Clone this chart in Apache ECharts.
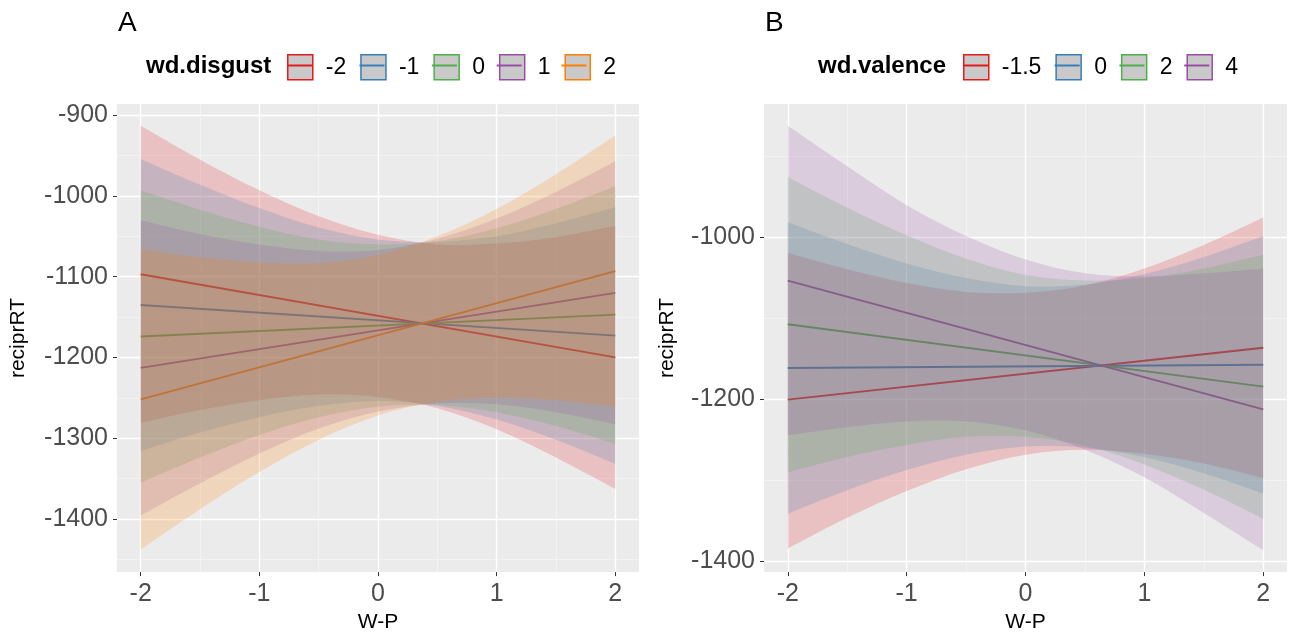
<!DOCTYPE html>
<html>
<head>
<meta charset="utf-8">
<script src="https://cdn.jsdelivr.net/npm/echarts@6/dist/echarts.min.js"></script>
<style>
  html, body { margin: 0; padding: 0; background: #fff; }
  #wrap { position: relative; width: 1293px; height: 638px; }
  #chartA { position: absolute; left: 0; top: 0; width: 646px; height: 638px; }
  #chartB { position: absolute; left: 646px; top: 0; width: 647px; height: 638px; }
</style>
</head>
<body>
<div id="wrap"><div id="chartA"></div><div id="chartB"></div></div>
<script>
// x positions where the ribbons were read, and ends of the fitted lines
const xs = [-2, -1.5, -1, -0.5, 0, 0.5, 1, 1.5, 2];
const lineX = [-2, 2];

// Panel A: wd.disgust
const disgustLevels = ['-2', '-1', '0', '1', '2'];
const disgustFit = [[-1097, -1200], [-1135, -1173], [-1174, -1147], [-1213, -1120], [-1252, -1093]];
const disgustUpper = [
  [-913, -955, -993, -1025, -1048, -1060, -1059, -1051, -1037],
  [-954, -986, -1015, -1039, -1054, -1057, -1050, -1034, -1014],
  [-993, -1017, -1038, -1054, -1060, -1056, -1040, -1016, -988],
  [-1030, -1047, -1060, -1068, -1067, -1053, -1028, -995, -957],
  [-1066, -1076, -1082, -1083, -1073, -1050, -1016, -973, -925]
];
const disgustLower = [
  [-1281, -1265, -1253, -1246, -1249, -1263, -1289, -1324, -1363],
  [-1316, -1293, -1274, -1260, -1254, -1260, -1277, -1302, -1332],
  [-1355, -1324, -1296, -1274, -1261, -1259, -1268, -1285, -1307],
  [-1396, -1356, -1319, -1288, -1267, -1257, -1258, -1268, -1283],
  [-1438, -1388, -1342, -1302, -1272, -1255, -1250, -1253, -1261]
];

// Panel B: wd.valence
const valenceLevels = ['-1.5', '0', '2', '4'];
const valenceFit = [[-1201, -1137], [-1162, -1158], [-1108, -1185], [-1054, -1213]];
const valenceUpper = [
  [-1020, -1040, -1057, -1068, -1069, -1060, -1039, -1010, -976],
  [-982, -1009, -1033, -1051, -1061, -1059, -1046, -1025, -999],
  [-926, -964, -998, -1027, -1047, -1054, -1051, -1039, -1022],
  [-863, -913, -961, -999, -1028, -1045, -1049, -1045, -1039]
];
const valenceLower = [
  [-1385, -1347, -1314, -1287, -1269, -1263, -1268, -1280, -1298],
  [-1342, -1313, -1288, -1269, -1259, -1260, -1272, -1292, -1317],
  [-1291, -1272, -1257, -1247, -1247, -1258, -1281, -1312, -1348],
  [-1245, -1235, -1228, -1228, -1239, -1263, -1297, -1341, -1387]
];

// ticks
const xTicks = [-2, -1, 0, 1, 2];
const xMinor = [-1.5, -0.5, 0.5, 1.5];
const yTicksA = [-1400, -1300, -1200, -1100, -1000, -900];
const yMinorA = [-1450, -1350, -1250, -1150, -1050, -950];
const yTicksB = [-1400, -1200, -1000];
const yMinorB = [-1300, -1100, -900];

const colors = ['#E41A1C', '#377EB8', '#4DAF4A', '#984EA3', '#FF7F00'];
const FONT = 'Liberation Sans, Arial, sans-serif';

function rgba(hex, a) {
  const n = parseInt(hex.slice(1), 16);
  return `rgba(${(n >> 16) & 255},${(n >> 8) & 255},${n & 255},${a})`;
}

// catmull-rom -> bezier through pixel points
function curveThrough(pts) {
  let d = '';
  for (let k = 0; k < pts.length - 1; k++) {
    const p0 = pts[k - 1] || pts[k], p1 = pts[k], p2 = pts[k + 1], p3 = pts[k + 2] || pts[k + 1];
    const c1x = p1[0] + (p2[0] - p0[0]) / 6, c1y = p1[1] + (p2[1] - p0[1]) / 6;
    const c2x = p2[0] - (p3[0] - p1[0]) / 6, c2y = p2[1] - (p3[1] - p1[1]) / 6;
    d += ` C${c1x},${c1y} ${c2x},${c2y} ${p2[0]},${p2[1]}`;
  }
  return d;
}

function bandSeries(upper, lower, color) {
  return {
    type: 'custom', silent: true, z: 3,
    data: xs.map((x, j) => [x, lower[j], upper[j]]),
    encode: { x: 0, y: [1, 2] },
    renderItem: (params, api) => {
      if (params.dataIndex !== 0) return;
      const up = xs.map((x, j) => api.coord([x, upper[j]]));
      const lo = xs.map((x, j) => api.coord([x, lower[j]])).reverse();
      const d = `M${up[0][0]},${up[0][1]}` + curveThrough(up) +
        ` L${lo[0][0]},${lo[0][1]}` + curveThrough(lo) + ' Z';
      return { type: 'path', shape: { pathData: d }, style: { fill: rgba(color, 0.2), stroke: null } };
    }
  };
}

function buildOption(cfg) {
  const series = [];
  // lines first, ribbons drawn over them (as in the ggplot)
  cfg.levels.forEach((lv, i) => {
    series.push({
      name: lv, type: 'line', symbol: 'none', z: 2, silent: true,
      data: lineX.map((x, j) => [x, cfg.fit[i][j]]),
      lineStyle: { color: colors[i], width: 1.9 },
      itemStyle: { color: colors[i] }
    });
  });
  cfg.levels.forEach((lv, i) => {
    series.push(bandSeries(cfg.upper[i], cfg.lower[i], colors[i]));
  });

  const legendBase = {
    left: cfg.legendLeft, top: 54, padding: 0, orient: 'horizontal',
    itemWidth: 25, itemHeight: 25, itemGap: 14, selectedMode: false,
    textStyle: { fontSize: 23, fontFamily: FONT, color: '#000', padding: [0, 0, 0, 8] }
  };

  return {
    animation: false,
    title: [
      { text: cfg.letter, left: cfg.letterLeft, top: 9, padding: 0,
        textStyle: { fontSize: 28, fontWeight: 'normal', color: '#000', fontFamily: FONT } },
      { text: cfg.legendTitle, left: cfg.legendTitleLeft, top: 54, padding: 0,
        textStyle: { fontSize: 24, fontWeight: 'bold', color: '#000', fontFamily: FONT } }
    ],
    legend: [
      Object.assign({}, legendBase, {
        icon: 'rect',
        data: cfg.levels.map((lv, i) => ({
          name: lv, itemStyle: { color: '#C9C9C9', borderColor: colors[i], borderWidth: 1.5 }
        }))
      }),
      Object.assign({}, legendBase, {
        icon: 'path://M0,0H25V2H0Z',
        textStyle: Object.assign({}, legendBase.textStyle, { color: 'rgba(0,0,0,0)' }),
        data: cfg.levels.map((lv, i) => ({
          name: lv, itemStyle: { color: colors[i], borderWidth: 0 }
        }))
      })
    ],
    grid: {
      left: cfg.gridLeft, top: 104, width: cfg.gridWidth, height: 474,
      show: true, backgroundColor: '#EBEBEB', borderWidth: 0
    },
    xAxis: [
      {
        type: 'value', min: -2.2, max: 2.2,
        name: 'W-P', nameLocation: 'middle', nameGap: 37,
        nameTextStyle: { fontSize: 21, color: '#000', fontFamily: FONT },
        axisLine: { show: false, onZero: false },
        axisTick: { show: true, length: 4, customValues: xTicks, lineStyle: { color: '#333' } },
        axisLabel: { customValues: xTicks, fontSize: 25, color: '#4D4D4D', fontFamily: FONT, margin: 10,
          formatter: v => String(v) },
        splitLine: { show: true, lineStyle: { color: '#FFFFFF', width: 1.4 } }
      },
      {
        type: 'value', min: -2.2, max: 2.2, position: 'bottom',
        axisLine: { show: false, onZero: false },
        axisTick: { show: false, customValues: xMinor },
        axisLabel: { show: false, customValues: xMinor },
        splitLine: { show: true, lineStyle: { color: '#F6F6F6', width: 0.7 } }
      }
    ],
    yAxis: [
      {
        type: 'value', min: cfg.yMin, max: cfg.yMax,
        name: 'reciprRT', nameLocation: 'middle', nameGap: cfg.yNameGap, nameRotate: 90,
        nameTextStyle: { fontSize: 21, color: '#000', fontFamily: FONT },
        axisLine: { show: false, onZero: false },
        axisTick: { show: true, length: 4, customValues: cfg.yTicks, lineStyle: { color: '#333' } },
        axisLabel: { customValues: cfg.yTicks, fontSize: 25, color: '#4D4D4D', fontFamily: FONT, margin: 9,
          formatter: v => String(v) },
        splitLine: { show: true, lineStyle: { color: '#FFFFFF', width: 1.4 } }
      },
      {
        type: 'value', min: cfg.yMin, max: cfg.yMax, position: 'left',
        axisLine: { show: false, onZero: false },
        axisTick: { show: false, customValues: cfg.yMinor },
        axisLabel: { show: false, customValues: cfg.yMinor },
        splitLine: { show: true, lineStyle: { color: '#F6F6F6', width: 0.7 } }
      }
    ],
    series: series
  };
}

const chartA = echarts.init(document.getElementById('chartA'), null, { renderer: 'canvas' });
chartA.setOption(buildOption({
  letter: 'A', letterLeft: 118, legendTitle: 'wd.disgust', legendTitleLeft: 146, legendLeft: 287,
  gridLeft: 117, gridWidth: 522, yMin: -1466, yMax: -886, yTicks: yTicksA, yMinor: yMinorA, yNameGap: 88,
  levels: disgustLevels, fit: disgustFit, upper: disgustUpper, lower: disgustLower
}));

const chartB = echarts.init(document.getElementById('chartB'), null, { renderer: 'canvas' });
chartB.setOption(buildOption({
  letter: 'B', letterLeft: 119, legendTitle: 'wd.valence', legendTitleLeft: 172, legendLeft: 317,
  gridLeft: 118, gridWidth: 523, yMin: -1414, yMax: -836, yTicks: yTicksB, yMinor: yMinorB, yNameGap: 86,
  levels: valenceLevels, fit: valenceFit, upper: valenceUpper, lower: valenceLower
}));
</script>
</body>
</html>
